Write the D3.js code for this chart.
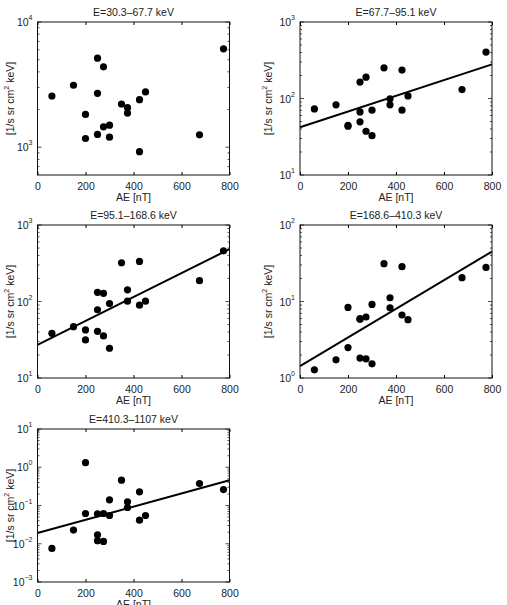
<!DOCTYPE html>
<html>
<head>
<meta charset="utf-8">
<script src="https://cdn.jsdelivr.net/npm/d3@7"></script>
<style>
  body { margin: 0; background: #fff; }
  svg { font-family: 'Liberation Sans', Arial, sans-serif; }
</style>
</head>
<body>
<div id="viz"></div>
<script>
const width = 507;
const height = 605;

// AE index of every event (same for every energy channel)
const aeValues = [60, 150, 200, 200, 250, 250, 250, 275, 275, 300, 300, 350, 375, 375, 425, 425, 450, 675, 775];

// Flux per channel
const titles = ['E=30.3\u201367.7 keV', 'E=67.7\u201395.1 keV', 'E=95.1\u2013168.6 keV', 'E=168.6\u2013410.3 keV', 'E=410.3\u20131107 keV'];
const flux1 = [2565, 3125, 1828, 1174, 5145, 2692, 1265, 4385, 1456, 1500, 1203, 2213, 2069, 1875, 2399, 922, 2762, 1256, 6110];
const flux2 = [73, 82.6, 43.4, 44.5, 164, 66.8, 49.5, 190, 37.3, 70.3, 32.7, 252, 99, 82.6, 235, 70.3, 108, 131, 404];
const flux3 = [38.4, 46.9, 42.5, 31.5, 132, 78, 40.7, 128, 35.5, 94, 24.5, 321, 142, 101, 334, 89.6, 101, 187, 459];
const flux4 = [1.28, 1.73, 8.36, 2.5, 5.96, 5.85, 1.82, 6.27, 1.78, 9.15, 1.53, 31.2, 11.2, 8.28, 28.5, 6.66, 5.78, 20.5, 27.9];
const flux5 = [0.00755, 0.0228, 1.32, 0.0618, 0.0607, 0.0172, 0.012, 0.0618, 0.0115, 0.1406, 0.0548, 0.458, 0.1248, 0.0887, 0.2277, 0.0414, 0.0548, 0.375, 0.261];

// y limits of each log axis
const yLimits = [[600, 1e4], [10, 1e3], [10, 1e3], [1, 100], [1e-3, 10]];

// fitted line values at AE = 0 and AE = 800 (none for first channel)
const fitLines = [null, [42, 279], [27.1, 483], [1.43, 45], [0.019, 0.458]];

const xTicks = [0, 200, 400, 600, 800];
const fluxes = [flux1, flux2, flux3, flux4, flux5];

const panelW = 192;
const panelH = 153;
const colLeft = [37.5, 300];
const rowTop = [22, 225, 429];
const yLabelOffset = [-24, -28];

const svg = d3.select('#viz')
  .append('svg')
    .attr('width', width)
    .attr('height', height);

fluxes.forEach((flux, i) => {
  const col = i % 2;
  const left = colLeft[col];
  const top = rowTop[Math.floor(i / 2)];

  const xScale = d3.scaleLinear()
    .domain([0, 800])
    .range([0, panelW]);
  const yScale = d3.scaleLog()
    .domain(yLimits[i])
    .range([panelH, 0]);

  const g = svg.append('g')
    .attr('transform', `translate(${left}, ${top})`);

  // x axis bottom, labels below
  const xAxis = d3.axisBottom(xScale)
    .tickValues(xTicks)
    .tickSizeInner(-3)
    .tickSizeOuter(0)
    .tickPadding(8);
  const xg = g.append('g')
    .attr('transform', `translate(0, ${panelH})`)
    .call(xAxis);
  xg.select('.domain').remove();
  xg.selectAll('text')
    .style('font-size', '10.5px')
    .attr('fill', '#222');

  // top ticks
  g.append('g')
    .call(d3.axisTop(xScale).tickValues(xTicks).tickSizeInner(-3).tickSizeOuter(0).tickFormat(''))
    .select('.domain').remove();

  // y ticks: major decades + minor
  const lo = Math.log10(yLimits[i][0]);
  const hi = Math.log10(yLimits[i][1]);
  const majors = d3.range(Math.ceil(lo), Math.floor(hi) + 1);
  const minors = [];
  for (let e = Math.floor(lo); e < hi; e++) {
    for (let m = 2; m <= 9; m++) {
      const v = m * Math.pow(10, e);
      if (v > yLimits[i][0] && v < yLimits[i][1]) minors.push(v);
    }
  }
  const tickG = g.append('g').attr('stroke', '#222').attr('stroke-width', 0.8);
  majors.forEach(e => {
    const y = yScale(Math.pow(10, e));
    tickG.append('line').attr('x1', 0).attr('x2', 4).attr('y1', y).attr('y2', y);
    tickG.append('line').attr('x1', panelW).attr('x2', panelW - 4).attr('y1', y).attr('y2', y);
  });
  minors.forEach(v => {
    const y = yScale(v);
    tickG.append('line').attr('x1', 0).attr('x2', 2).attr('y1', y).attr('y2', y);
    tickG.append('line').attr('x1', panelW).attr('x2', panelW - 2).attr('y1', y).attr('y2', y);
  });

  // y tick labels 10^n
  majors.forEach(e => {
    const t = g.append('text')
      .attr('x', -5)
      .attr('y', yScale(Math.pow(10, e)) + 4)
      .attr('text-anchor', 'end')
      .attr('fill', '#222')
      .style('font-size', '10.5px');
    t.append('tspan').text('10');
    t.append('tspan')
      .attr('dy', -6)
      .style('font-size', '7px')
      .text(String(e).replace('-', '\u2212'));
  });

  // fit line
  if (fitLines[i]) {
    g.append('line')
      .attr('x1', xScale(0))
      .attr('y1', yScale(fitLines[i][0]))
      .attr('x2', xScale(800))
      .attr('y2', yScale(fitLines[i][1]))
      .attr('stroke', '#000')
      .attr('stroke-width', 2);
  }

  // points
  g.append('g')
    .selectAll('circle')
    .data(flux)
    .join('circle')
      .attr('cx', (d, k) => xScale(aeValues[k]))
      .attr('cy', d => yScale(d))
      .attr('r', 3.6)
      .attr('fill', '#000');

  // box
  g.append('rect')
    .attr('width', panelW)
    .attr('height', panelH)
    .attr('fill', 'none')
    .attr('stroke', '#111')
    .attr('stroke-width', 1);

  // title
  g.append('text')
    .attr('x', panelW / 2)
    .attr('y', -6)
    .attr('text-anchor', 'middle')
    .attr('fill', '#222')
    .style('font-size', '10.5px')
    .text(titles[i]);

  // x label
  g.append('text')
    .attr('x', panelW / 2)
    .attr('y', panelH + 26)
    .attr('text-anchor', 'middle')
    .attr('fill', '#222')
    .style('font-size', '10.5px')
    .text('AE [nT]');

  // y label
  const yl = g.append('text')
    .attr('transform', `translate(${yLabelOffset[col]}, ${panelH / 2}) rotate(-90)`)
    .attr('text-anchor', 'middle')
    .attr('fill', '#222')
    .style('font-size', '10.5px');
  yl.append('tspan').text('[1/s sr cm');
  yl.append('tspan').attr('dy', -5).style('font-size', '7px').text('2');
  yl.append('tspan').attr('dy', 5).text(' keV]');
});
</script>
</body>
</html>
